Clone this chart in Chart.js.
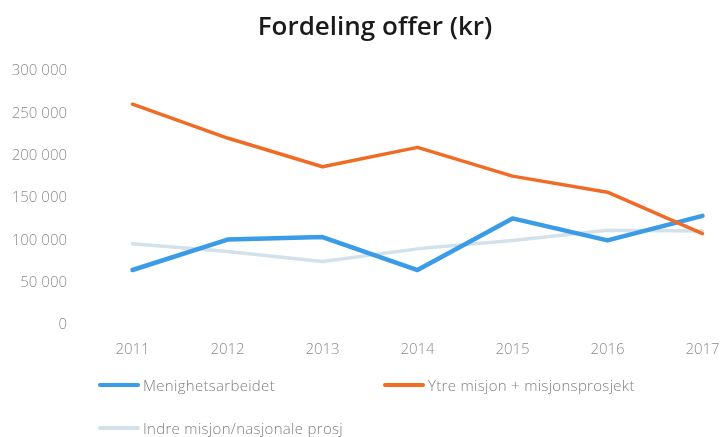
<!DOCTYPE html>
<html>
<head>
<meta charset="utf-8">
<script src="https://cdn.jsdelivr.net/npm/chart.js@4.4.1/dist/chart.umd.min.js"></script>
<style>
  html, body { margin: 0; padding: 0; background: #fff; overflow: hidden; width: 720px; height: 437px; }
  #wrap { position: absolute; left: 0; top: 0; width: 760px; height: 437px; }
  #legend { position: absolute; left: 0; top: 0; width: 720px; height: 437px; pointer-events: none;
            font-family: "Open Sans", sans-serif; font-size: 15px; color: #808080; font-weight: 300; letter-spacing: 0.3px; }
  .li { position: absolute; display: flex; align-items: center; white-space: nowrap; }
  .sw { width: 42px; height: 4px; border-radius: 2px; margin-right: 3px; }
</style>
</head>
<body>
<div id="wrap"><canvas id="c" width="760" height="437"></canvas></div>
<div id="legend"></div>
<script>
const categories = ["2011", "2012", "2013", "2014", "2015", "2016", "2017"];
const seriesNames = ["Menighetsarbeidet", "Ytre misjon + misjonsprosjekt", "Indre misjon/nasjonale prosj"];
const menighetsarbeidet = [65000, 101000, 104000, 65000, 126000, 100000, 129000];
const ytreMisjon = [261000, 221000, 187000, 210000, 176000, 157000, 108000];
const indreMisjon = [96000, 87000, 75000, 90000, 100000, 112000, 111000];
const yTicks = [0, 50000, 100000, 150000, 200000, 250000, 300000];
const colors = ["#3a9be6", "#f06b25", "#d3e2ea"];

const fmt = v => String(v).replace(/\B(?=(\d{3})+(?!\d))/g, " ");

const chart = new Chart(document.getElementById("c"), {
  type: "line",
  data: {
    labels: categories,
    datasets: [
      { label: seriesNames[0], data: menighetsarbeidet, borderColor: colors[0], backgroundColor: colors[0], borderWidth: 4.5, order: 1 },
      { label: seriesNames[1], data: ytreMisjon, borderColor: colors[1], backgroundColor: colors[1], borderWidth: 3.5, order: 0 },
      { label: seriesNames[2], data: indreMisjon, borderColor: colors[2], backgroundColor: colors[2], borderWidth: 3.5, order: 2 }
    ]
  },
  options: {
    responsive: false,
    animation: false,
    devicePixelRatio: 1,
    elements: { point: { radius: 0, hoverRadius: 0 }, line: { tension: 0, borderCapStyle: "round", borderJoinStyle: "round" } },
    layout: { padding: { left: 0, right: 10, top: 0, bottom: 62 } },
    plugins: {
      legend: { display: false },
      tooltip: { enabled: false },
      title: {
        display: true,
        text: "Fordeling offer (kr)",
        color: "#1a1a1a",
        font: { family: "Open Sans", size: 26, weight: 600 },
        padding: { top: 12, bottom: 28 }
      }
    },
    scales: {
      x: {
        offset: true,
        grid: { display: false, drawTicks: false },
        border: { display: false },
        ticks: { color: "#8c8c8c", font: { family: "Open Sans", size: 15, weight: 300 }, padding: 16, maxRotation: 0 }
      },
      y: {
        min: 0, max: 300000,
        afterFit: s => { s.width = 85; },
        afterBuildTicks: s => { s.ticks = yTicks.map(v => ({ value: v })); },
        grid: { display: false, drawTicks: false },
        border: { display: false },
        ticks: { color: "#8c8c8c", font: { family: "Open Sans", size: 15, weight: 300 }, padding: 18, callback: v => fmt(v) }
      }
    }
  }
});

const legendPos = [[98, 385], [383, 385], [98, 428]];
const lg = document.getElementById("legend");
seriesNames.forEach((n, i) => {
  const d = document.createElement("div");
  d.className = "li";
  d.style.left = legendPos[i][0] + "px";
  d.style.top = (legendPos[i][1] - 11) + "px";
  d.style.height = "22px";
  d.innerHTML = '<div class="sw" style="background:' + colors[i] + '"></div><span>' + n + '</span>';
  lg.appendChild(d);
});
</script>
</body>
</html>
